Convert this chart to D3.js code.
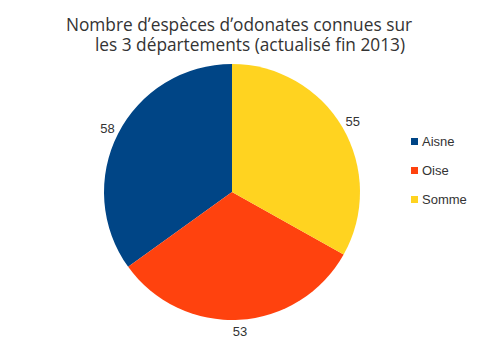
<!DOCTYPE html>
<html>
<head>
<meta charset="utf-8">
<script src="https://cdn.jsdelivr.net/npm/d3@7"></script>
<style>
  body { margin: 0; background: #fff; }
  text { font-family: "Liberation Sans", Arial, sans-serif; }
  .titre { font-family: "Open Sans", sans-serif; }
</style>
</head>
<body>
<div id="chart"></div>
<script>
// data
let departements = ["Aisne", "Oise", "Somme"];
let especes = [58, 53, 55];
let couleurs = ["#004586", "#ff420e", "#ffd320"];
let titre = ["Nombre d\u02BCespèces d\u02BCodonates connues sur", "les 3 départements (actualisé fin 2013)"];

let width = 500, height = 353;
let cx = 232, cy = 192, radius = 128;

let svg = d3.select("#chart").append("svg")
    .attr("width", width)
    .attr("height", height);

// title
svg.append("g").selectAll("text")
    .data(titre)
    .enter().append("text")
    .attr("class", "titre")
    .attr("x", function(d, i) { return i ? 250 : 239; })
    .attr("y", function(d, i) { return 31 + i * 20; })
    .attr("text-anchor", "middle")
    .attr("font-size", 17.3)
    .attr("fill", "#333")
    .text(function(d) { return d; });

let data = departements.map(function(d, i) { return {name: d, value: especes[i], color: couleurs[i]}; });

// counter-clockwise from the top, like the original
let pie = d3.pie()
    .sort(null)
    .value(function(d) { return d.value; })
    .startAngle(0)
    .endAngle(-2 * Math.PI);

let arc = d3.arc().innerRadius(0).outerRadius(radius);
let labelArc = d3.arc().innerRadius(140).outerRadius(140);

let g = svg.append("g")
    .attr("transform", "translate(" + cx + "," + cy + ")");

g.selectAll(".slice")
    .data(pie(data))
    .enter().append("path")
    .attr("class", "slice")
    .attr("d", arc)
    .attr("fill", function(d) { return d.data.color; });

g.selectAll(".label")
    .data(pie(data))
    .enter().append("text")
    .attr("class", "label")
    .attr("transform", function(d) { return "translate(" + labelArc.centroid(d) + ")"; })
    .attr("text-anchor", "middle")
    .attr("dy", "0.35em")
    .attr("font-size", 13)
    .attr("fill", "#333")
    .text(function(d) { return d.data.value; });

// legend
let legend = svg.append("g")
    .attr("transform", "translate(411,138)");

let item = legend.selectAll(".item")
    .data(data)
    .enter().append("g")
    .attr("class", "item")
    .attr("transform", function(d, i) { return "translate(0," + i * 29 + ")"; });

item.append("rect")
    .attr("width", 7)
    .attr("height", 7)
    .attr("fill", function(d) { return d.color; });

item.append("text")
    .attr("x", 11)
    .attr("y", 8)
    .attr("font-size", 13)
    .attr("fill", "#333")
    .text(function(d) { return d.name; });
</script>
</body>
</html>
